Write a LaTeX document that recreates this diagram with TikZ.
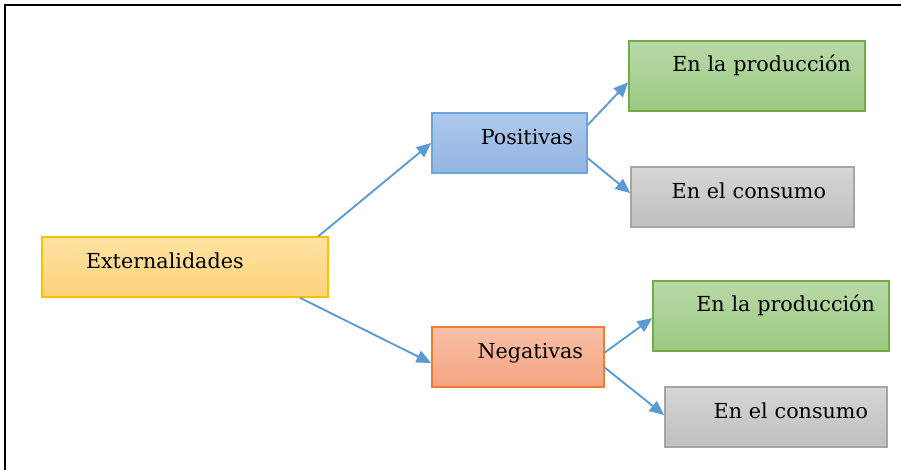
\documentclass[tikz,border=0pt]{standalone}
\usepackage{fontspec}
\setmainfont{DejaVu Serif}
\usetikzlibrary{positioning,shapes,calc,arrows.meta}

\definecolor{extTop}{HTML}{FFE3A3}
\definecolor{extBot}{HTML}{FDD27A}
\definecolor{extLine}{HTML}{FFC000}
\definecolor{posTop}{HTML}{ADC8EC}
\definecolor{posBot}{HTML}{93B6E2}
\definecolor{posLine}{HTML}{6FA5DD}
\definecolor{negTop}{HTML}{F8C0A8}
\definecolor{negBot}{HTML}{F4A47F}
\definecolor{negLine}{HTML}{ED7D31}
\definecolor{prodTop}{HTML}{B8D9A8}
\definecolor{prodBot}{HTML}{9BC982}
\definecolor{prodLine}{HTML}{70AD47}
\definecolor{consTop}{HTML}{D6D6D6}
\definecolor{consBot}{HTML}{BFBFBF}
\definecolor{consLine}{HTML}{A5A5A5}
\definecolor{arrowBlue}{HTML}{5B9BD5}

\begin{document}
\begin{tikzpicture}[x=0.75pt,y=-0.75pt,
                     box/.style={rectangle,draw,line width=1.2pt,minimum height=45pt,inner ysep=0pt,
                                 text height=12pt,text depth=10pt,align=right,
                                 font=\fontsize{15.5pt}{18pt}\selectfont},
                     ext box/.style={box,top color=extTop,bottom color=extBot,draw=extLine,align=left},
                     pos box/.style={box,top color=posTop,bottom color=posBot,draw=posLine},
                     neg box/.style={box,top color=negTop,bottom color=negBot,draw=negLine},
                     prod box/.style={box,top color=prodTop,bottom color=prodBot,draw=prodLine,
                                      minimum height=52.5pt,text depth=19pt},
                     cons box/.style={box,top color=consTop,bottom color=consBot,draw=consLine},
                     link/.style={draw=arrowBlue,line width=1.4pt,
                                  -{Triangle[length=11pt,width=9.5pt]}}
                    ]
   \useasboundingbox (0,0) rectangle (901,470);
   \draw[line width=1.8pt] (5,470) |- (901,5);

   \node[ext box,inner xsep=33pt,text width=148.5pt] (ext) at (185,267) {Externalidades};
   \node[pos box,inner xsep=10.5pt,text width=95.25pt] (pos) at (509.5,143) {Positivas};
   \node[neg box,inner xsep=15.75pt,text width=97.5pt] (neg) at (518,357) {Negativas};
   \node[prod box,inner xsep=10.5pt,text width=156pt] (prod1) at (747,76) {En la producción};
   \node[cons box,inner xsep=21pt,text width=125.25pt] (cons1) at (742.5,197) {En el consumo};
   \node[prod box,inner xsep=10.5pt,text width=156pt] (prod2) at (771,316) {En la producción};
   \node[cons box,inner xsep=14.25pt,text width=138pt] (cons2) at (776,417) {En el consumo};

   \path%
     (ext.13) edge[link] (pos.180)
     (ext.-15) edge[link] (neg.184)
     (pos.13) edge[link] (prod1.183)
     (pos.-11) edge[link] (cons1.178)
     (neg.3) edge[link] (prod2.181)
     (neg.-7) edge[link] (cons2.179);
\end{tikzpicture}
\end{document}
